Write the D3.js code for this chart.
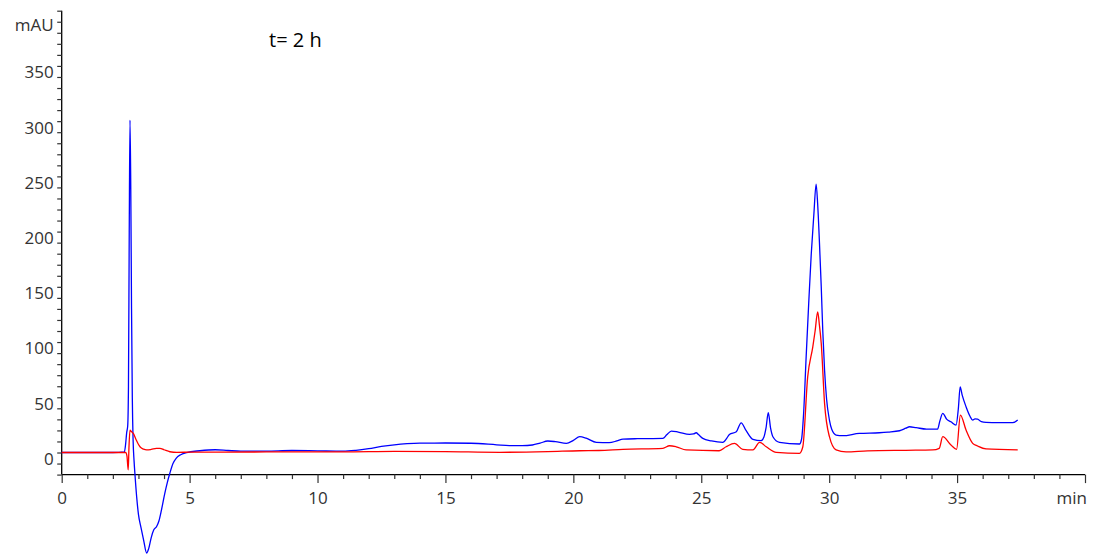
<!DOCTYPE html>
<html>
<head>
<meta charset="utf-8">
<script src="https://cdn.jsdelivr.net/npm/d3@7"></script>
<style>
  html, body { margin: 0; padding: 0; background: #fff; }
  svg { display: block; }
  text { font-family: "Open Sans", "Noto Sans", sans-serif; }
</style>
</head>
<body>
<svg id="chart" width="1095" height="556"></svg>
<script>
// ---- data (time in min, absorbance in mAU) ----
const blueTime = [0, 1, 2, 2.45, 2.5, 2.54, 2.58, 2.61, 2.64, 2.67, 2.7, 2.73, 2.76, 2.79, 2.83, 2.86, 2.93, 3.0, 3.1, 3.2, 3.32, 3.4, 3.5, 3.6, 3.71, 3.8, 3.9, 4.03, 4.13, 4.23, 4.35, 4.48, 4.65, 4.88, 5.4, 6.0, 6.5, 7, 8, 9, 10, 11, 11.5, 12, 12.5, 13, 13.5, 14, 15, 16, 17, 17.5, 18, 18.4, 18.7, 19.0, 19.3, 19.73, 20.0, 20.25, 20.5, 20.9, 21.4, 21.7, 21.94, 22.5, 23, 23.5, 23.65, 23.83, 24.1, 24.54, 24.7, 24.8, 24.9, 25.06, 25.4, 25.84, 26.0, 26.1, 26.37, 26.56, 26.75, 27.02, 27.34, 27.45, 27.53, 27.62, 27.71, 27.8, 28.06, 28.84, 28.92, 29.0, 29.1, 29.2, 29.3, 29.4, 29.49, 29.55, 29.62, 29.69, 29.75, 29.82, 29.9, 30.01, 30.1, 30.27, 30.53, 31.18, 31.96, 32.3, 32.75, 33.0, 33.14, 33.4, 33.8, 34.24, 34.32, 34.44, 34.6, 34.76, 34.96, 35.05, 35.12, 35.2, 35.35, 35.5, 35.61, 35.7, 35.8, 35.95, 36.13, 36.6, 37.17, 37.37];
const blueValue = [0, 0, 0, 0.5, 8, 18, 24, 60, 200, 301, 240, 130, 50, 12, -8, -18.6, -40, -56, -68, -79, -91, -87, -77, -70, -67, -62, -52, -37, -27, -18.6, -10, -5, -2, 0, 1.6, 2.5, 1.8, 1.2, 1.3, 1.8, 1.5, 1.2, 2, 3.5, 5.5, 7, 8, 8.5, 8.6, 8.4, 7.0, 6.3, 6.2, 6.8, 8.5, 10.4, 9.8, 8.3, 11, 14.3, 13, 9.2, 8.9, 10.5, 12.2, 12.5, 12.6, 12.8, 16, 19.4, 18.5, 16.4, 16.8, 17.9, 16, 12.8, 10.5, 9.2, 13, 16.4, 18.8, 26.9, 20, 11.9, 10.7, 14, 22, 36, 22, 14.3, 9.2, 7.7, 12, 35, 86.6, 135, 180, 215, 243, 225, 190, 150, 110, 74.5, 48, 29.4, 21, 15.8, 15.2, 17.3, 17.9, 18.5, 19.7, 22, 23.3, 22.5, 21.2, 21.2, 28, 35.4, 30, 27.8, 24.8, 40, 59.5, 52, 41.4, 33, 29.4, 30.5, 30.2, 28, 27.3, 27, 27, 29.4];

const redTime = [0, 1, 2, 2.5, 2.55, 2.6, 2.63, 2.67, 2.72, 2.8, 2.9, 3.06, 3.2, 3.32, 3.5, 3.7, 3.84, 4.0, 4.23, 4.5, 5, 8, 11, 13, 15, 17.12, 19, 20.25, 21, 21.94, 23.5, 23.76, 24.02, 24.41, 25.7, 25.97, 26.3, 26.62, 27.02, 27.28, 27.54, 27.93, 28.84, 28.97, 29.16, 29.36, 29.45, 29.55, 29.62, 29.69, 29.82, 30.01, 30.27, 30.66, 31.5, 33, 34.05, 34.3, 34.44, 34.76, 34.98, 35.13, 35.35, 35.61, 35.8, 36.13, 37.37];
const redValue = [0, 0, 0, 0, -3, -15.8, 5, 20.3, 19, 17.3, 12, 5.2, 3, 2.3, 2.8, 3.8, 3.8, 2.5, 0.7, 0.2, 0.3, 0.5, 0.5, 1, 0.8, 0.2, 0.8, 1.6, 1.8, 2.9, 3.8, 6.1, 5.2, 2.3, 1.6, 5.2, 8.3, 2.9, 2.3, 9.2, 5.2, 0.2, -0.7, 5.2, 68.5, 95.6, 110, 127.2, 115, 98.7, 44.5, 14.3, 2.3, 0.5, 1.5, 2, 2.3, 3.8, 14.3, 6.8, 2.9, 33.9, 20.3, 8.3, 5.9, 3.2, 2.3];

const yLabelTicks = [0, 50, 100, 150, 200, 250, 300, 350];
const xLabelTicks = [0, 5, 10, 15, 20, 25, 30, 35];
const yUnit = "mAU";
const xUnit = "min";
const title = "t= 2 h";

// ---- layout ----
const svg = d3.select("#chart");
const x = d3.scaleLinear().domain([0, 40]).range([61.7, 1085]);
const y = d3.scaleLinear().domain([-20, 400]).range([474.6, 10.7]);

// y axis
const yMinor = d3.range(-20, 401, 10);
const yAxis = d3.axisLeft(y)
  .tickValues(yMinor)
  .tickSize(4.5)
  .tickPadding(3.5)
  .tickFormat(d => yLabelTicks.includes(d) ? d : "");
const gy = svg.append("g").attr("transform", `translate(${x(0)},0)`).call(yAxis);
gy.select(".domain").attr("stroke", "#000").attr("stroke-width", 1.3).attr("d", `M0,${y(400)}V${y(-20)}`);
gy.selectAll(".tick line").attr("stroke", "#333").attr("stroke-width", 1.2);
gy.selectAll(".tick text")
  .attr("dy", "0.7em")
  .attr("fill", "#333")
  .style("font-size", "17px");

svg.append("text")
  .attr("x", x(0) - 8).attr("y", 31)
  .attr("text-anchor", "end")
  .attr("fill", "#333")
  .style("font-size", "17px")
  .text(yUnit);

// x axis
const xMinor = d3.range(0, 41, 1);
const xAxis = d3.axisBottom(x)
  .tickValues(xMinor)
  .tickSize(4.5)
  .tickFormat(d => xLabelTicks.includes(d) ? d : "");
const gx = svg.append("g").attr("transform", `translate(0,${y(-20)})`).call(xAxis);
gx.select(".domain").attr("stroke", "#000").attr("stroke-width", 1.3).attr("d", `M${x(0)},0H${x(40)}`);
gx.selectAll(".tick line")
  .attr("stroke", "#333").attr("stroke-width", 1.2)
  .attr("y2", d => (d % 5 === 0) ? 8.5 : 4.5);
gx.selectAll(".tick text")
  .attr("y", 17)
  .attr("dy", "0.71em")
  .attr("fill", "#333")
  .style("font-size", "17px");

svg.append("text")
  .attr("x", x(40) + 2).attr("y", y(-20) + 29)
  .attr("text-anchor", "end")
  .attr("fill", "#333")
  .style("font-size", "17px")
  .text(xUnit);

// title
svg.append("text")
  .attr("x", 269).attr("y", 46.5)
  .attr("fill", "#000")
  .style("font-size", "20px")
  .text(title);

// traces
const line = d3.line()
  .x(d => x(d[0]))
  .y(d => y(d[1]))
  .curve(d3.curveMonotoneX);

const blue = blueTime.map((t, i) => [t, blueValue[i]]);
const red = redTime.map((t, i) => [t, redValue[i]]);

svg.append("path").datum(blue)
  .attr("fill", "none").attr("stroke", "#0000ff").attr("stroke-width", 1.3)
  .attr("stroke-linejoin", "round")
  .attr("d", line);

svg.append("path").datum(red)
  .attr("fill", "none").attr("stroke", "#ff0000").attr("stroke-width", 1.3)
  .attr("stroke-linejoin", "round")
  .attr("d", line);
</script>
</body>
</html>
